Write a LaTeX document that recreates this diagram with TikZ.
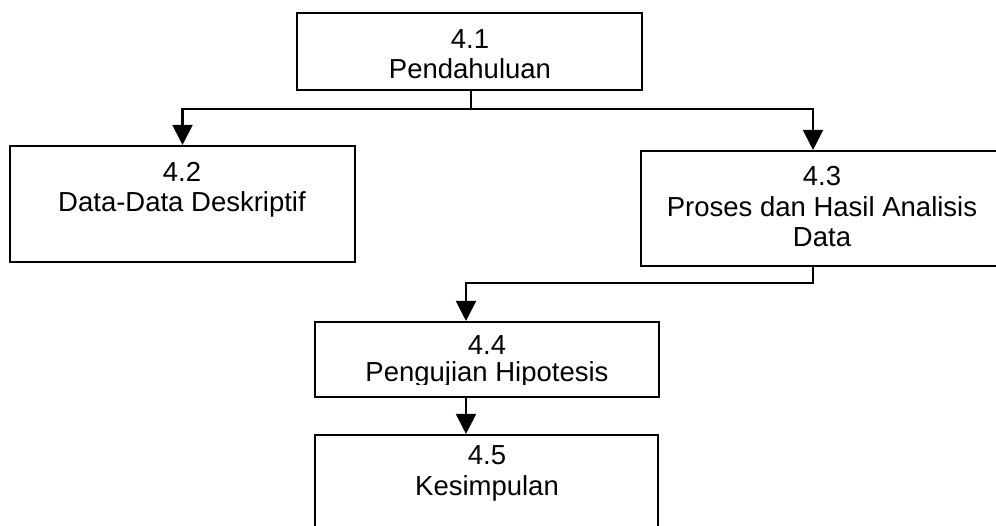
\documentclass[tikz,border=0pt]{standalone}
\usepackage{fontspec}
\setmainfont{Liberation Sans}
\usetikzlibrary{arrows.meta,fit}

\tikzset{
  box/.style={draw=black, line width=2.1pt, inner sep=0pt, fill=white},
  lbl/.style={align=center, inner sep=0pt, font=\fontsize{27.5}{30.5}\selectfont},
  arr/.style={draw=black, line width=2.1pt, -{Triangle[width=20pt,length=20pt]}},
  wire/.style={draw=black, line width=2.1pt}
}

\begin{document}
\begin{tikzpicture}[x=1pt, y=-1pt]
  \useasboundingbox (0,0) rectangle (996,526);
  \clip (0,0) rectangle (996,526);

  % boxes
  \node[box, fit={(297,13) (642,90)}]   (b41) {};
  \node[box, fit={(10,146) (355,262)}]  (b42) {};
  \node[box, fit={(641,151) (1003,266)}] (b43) {};
  \node[box, fit={(315,322) (659,397)}] (b44) {};
  \node[box, fit={(315,435) (658,545)}] (b45) {};

  % labels (anchored at the baseline of their last line)
  \node[lbl, anchor=base] (t41) at (470,79)  {4.1\\Pendahuluan};
  \node[lbl, anchor=base] (t42) at (182,212) {4.2\\Data-Data Deskriptif};
  \node[lbl, anchor=base] (t43) at (822,247) {4.3\\Proses dan Hasil Analisis\\Data};
  \begin{scope}
    % the second line is cut just below its baseline
    \clip (315,322) rectangle (659,384.5);
    \node[lbl, anchor=base, font=\fontsize{27.5}{27.5}\selectfont] (t44) at (487,382) {4.4\\Pengujian Hipotesis};
  \end{scope}
  \node[lbl, anchor=base] (t45) at (487,495) {4.5\\Kesimpulan};

  % routing points
  \coordinate (j1) at (471,109);
  \coordinate (x43) at (813,0);
  \coordinate (k) at (466,283);

  % connectors
  \draw[wire] (j1 |- b41.south) -- (j1);
  \draw[arr] (j1) -| (b42.north);
  \draw[arr] (j1) -| (x43 |- b43.north);
  \draw[arr] (x43 |- b43.south) |- (k) -- (k |- b44.north);
  \draw[arr] (k |- b44.south) -- (k |- b45.north);
\end{tikzpicture}
\end{document}
